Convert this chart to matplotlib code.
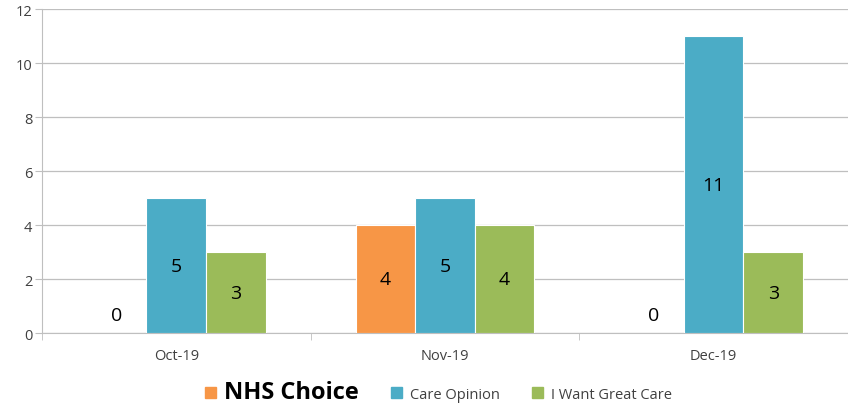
import numpy as np
import matplotlib.pyplot as plt
from matplotlib.patches import Patch

months = ['Oct-19', 'Nov-19', 'Dec-19']
series_names = ['NHS Choice', 'Care Opinion', 'I Want Great Care']
nhs_choice = [0, 4, 0]
care_opinion = [5, 5, 11]
great_care = [3, 4, 3]
colors = ['#F79646', '#4BACC6', '#9BBB59']

plt.rcParams['font.family'] = ['Open Sans', 'DejaVu Sans']

fig = plt.figure(figsize=(8.48, 4.06), dpi=100)
ax = fig.add_axes([0.0495, 0.1773, 0.9505, 0.798])

x = np.arange(len(months))
width = 0.222
for i, (vals, col) in enumerate(zip([nhs_choice, care_opinion, great_care], colors)):
    pos = x + (i - 1) * width
    ax.bar(pos, vals, width, color=col, edgecolor='white', linewidth=0.8, zorder=3)
    for px, v in zip(pos, vals):
        ax.text(px, max(v / 2, 0.65), str(v), ha='center', va='center',
                fontsize=14, color='black', zorder=4)

ax.set_xlim(-0.5, 2.5)
ax.set_ylim(0, 12)
ax.set_yticks(range(0, 13, 2))
ax.yaxis.grid(True, color='#BFBFBF', linewidth=0.9, zorder=0)
ax.set_xticks(x)
ax.set_xticklabels(months)
ax.set_xticks([-0.5, 0.5, 1.5, 2.5], minor=True)
ax.tick_params(axis='x', which='major', length=0, pad=11, labelsize=10.5, labelcolor='#404040')
ax.tick_params(axis='x', which='minor', length=5, color='#BFBFBF')
ax.tick_params(axis='y', length=5, color='#BFBFBF', labelsize=10.5, labelcolor='#404040', pad=2)
for s in ['top', 'right']:
    ax.spines[s].set_visible(False)
ax.spines['left'].set_color('#BFBFBF')
ax.spines['bottom'].set_color('#BFBFBF')

handles = [Patch(color=c) for c in colors]
leg = fig.legend(handles, series_names, loc='center', bbox_to_anchor=(0.517, 0.033),
                 ncol=3, frameon=False, fontsize=10.5, handlelength=0.75, handleheight=0.75,
                 columnspacing=2.2, handletextpad=0.55)
texts = leg.get_texts()
texts[0].set_fontsize(17)
texts[0].set_fontweight('bold')
for t in texts[1:]:
    t.set_color('#404040')

fig.savefig('out.png', dpi=100)
